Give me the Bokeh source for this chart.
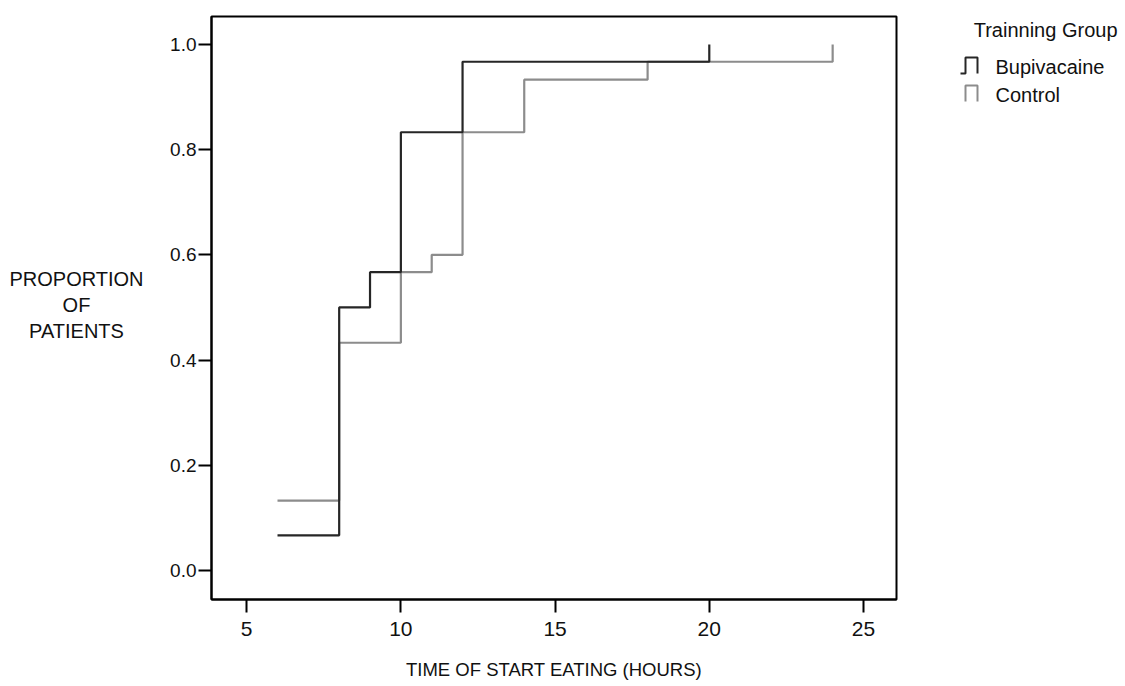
from bokeh.plotting import figure
from bokeh.layouts import row
from bokeh.models import Range1d, FixedTicker
from bokeh.core.properties import value
from bokeh.embed import file_html
from bokeh.resources import INLINE

# ---- data ----
times_bup = [6, 8, 9, 10, 12, 20]
prop_bup = [0.067, 0.5, 0.567, 0.833, 0.967, 1.0]
times_ctl = [6, 8, 10, 11, 12, 14, 18, 24]
prop_ctl = [0.133, 0.433, 0.567, 0.6, 0.833, 0.933, 0.967, 1.0]
x_ticks = [5, 10, 15, 20, 25]
y_ticks = [0.0, 0.2, 0.4, 0.6, 0.8, 1.0]
y_tick_labels = ["0.0", "0.2", "0.4", "0.6", "0.8", "1.0"]
series_names = ["Bupivacaine", "Control"]
legend_title = "Trainning Group"
x_title = "TIME OF START EATING (HOURS)"
y_title_lines = ["PROPORTION", "OF", "PATIENTS"]

DARK = "#262626"
GREY = "#8c8c8c"
FONT = "Liberation Sans"
H = 686
FRAME_TOP, FRAME_BOTTOM = 16, 599   # page pixels of the main plot frame (side panels align to it)

# ---- left panel: y title ----
pt = figure(width=156, height=H, x_range=Range1d(0, 156), y_range=Range1d(FRAME_BOTTOM, FRAME_TOP),
            output_backend="svg", toolbar_location=None, min_border=0)
pt.axis.visible = False
pt.grid.visible = False
pt.outline_line_color = None
pt.text(x=[76, 76, 76], y=[278, 304, 330], text=y_title_lines,
        text_font=value(FONT), text_font_size="20px", text_color="#111111",
        text_align="center", text_baseline="middle")

# ---- main plot ----
p = figure(width=794, height=H, x_range=Range1d(3.86, 26.07), y_range=Range1d(-0.055, 1.053),
           output_backend="svg", toolbar_location=None,
           min_border_left=55, min_border_right=54, min_border_top=16, min_border_bottom=87)
p.grid.visible = False
p.outline_line_color = "black"
p.outline_line_width = 2

p.step(times_ctl, prop_ctl, mode="after", line_color=GREY, line_width=2.2)
p.step(times_bup, prop_bup, mode="after", line_color=DARK, line_width=2.2)

p.xaxis.ticker = FixedTicker(ticks=x_ticks)
p.yaxis.ticker = FixedTicker(ticks=y_ticks)
p.yaxis.major_label_overrides = {t: l for t, l in zip(y_ticks, y_tick_labels)}
for ax in (p.xaxis, p.yaxis):
    ax.axis_line_width = 2
    ax.axis_line_color = "black"
    ax.major_tick_line_width = 2
    ax.major_tick_line_color = "black"
    ax.major_tick_in = 0
    ax.major_tick_out = 13
    ax.minor_tick_line_color = None
    ax.major_label_text_font = FONT
    ax.major_label_text_color = "#111111"
p.xaxis.major_label_text_font_size = "21px"
p.yaxis.major_label_text_font_size = "19px"
p.xaxis.major_label_standoff = 9
p.yaxis.major_label_standoff = 2
p.xaxis.axis_label = x_title
p.xaxis.axis_label_text_font = FONT
p.xaxis.axis_label_text_font_style = "normal"
p.xaxis.axis_label_text_font_size = "18.5px"
p.xaxis.axis_label_text_color = "#111111"
p.xaxis.axis_label_standoff = 20

# ---- right panel: legend ----
pl = figure(width=175, height=H, x_range=Range1d(950, 1125), y_range=Range1d(FRAME_BOTTOM, FRAME_TOP),
            output_backend="svg", toolbar_location=None, min_border=0)
pl.axis.visible = False
pl.grid.visible = False
pl.outline_line_color = None
pl.text(x=[1117], y=[29], text=[legend_title], text_font=value(FONT),
        text_font_size="20px", text_color="#111111", text_align="right", text_baseline="middle")
pl.line([960, 965, 965, 977, 977], [73, 73, 57, 57, 73], line_color=DARK, line_width=2)
pl.line([965, 965, 977, 977], [101, 85, 85, 101], line_color=GREY, line_width=2)
pl.text(x=[995, 995], y=[66, 94], text=series_names, text_font=value(FONT),
        text_font_size="20px", text_color="#111111", text_align="left", text_baseline="middle")

layout = row(pt, p, pl, spacing=0)
open("out.html", "w").write(file_html(layout, INLINE))
